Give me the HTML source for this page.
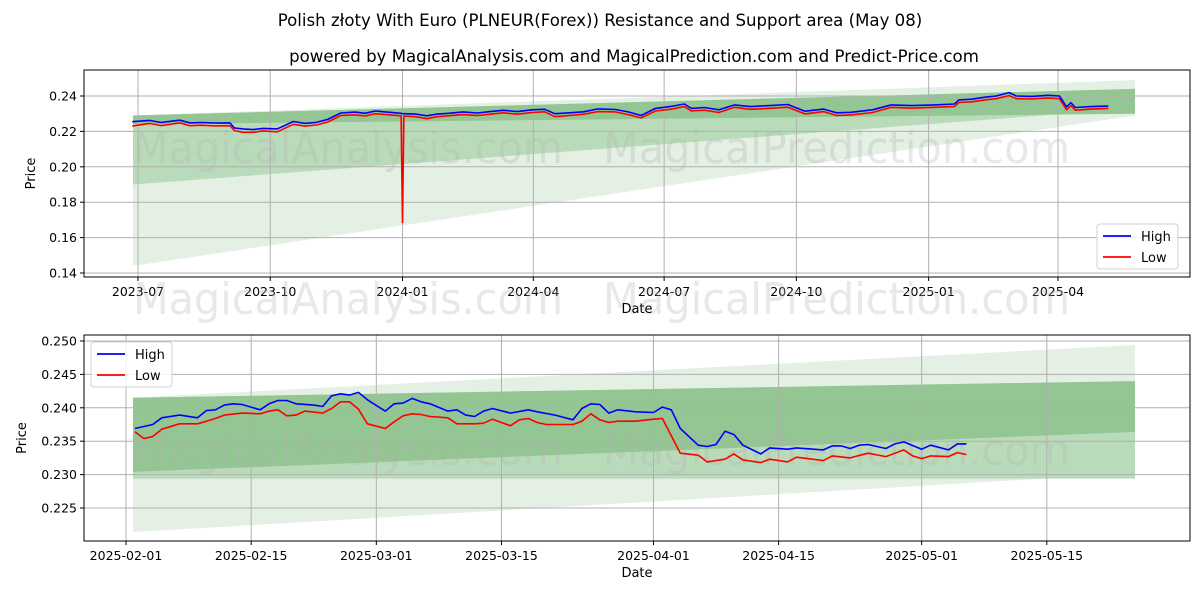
<!DOCTYPE html>
<html><head><meta charset="utf-8"><style>
body{margin:0;background:#fff;width:1200px;height:600px;overflow:hidden}
svg text{font-family:"DejaVu Sans","Liberation Sans",sans-serif}
</style></head><body>
<svg id="c" width="1200" height="600" xmlns="http://www.w3.org/2000/svg">
<text x="600" y="26" text-anchor="middle" font-size="16.6">Polish złoty With Euro (PLNEUR(Forex)) Resistance and Support area (May 08)</text>
<text x="634" y="62" text-anchor="middle" font-size="16.6">powered by MagicalAnalysis.com and MagicalPrediction.com and Predict-Price.com</text>
</svg>
<script>
// ---- top chart data (days since 2023-07-01) ----
const topDays=[-4,8,16,24,29,36,44,54,64,67,73,80,87,97,108,116,124,132,141,151,158,165,175,183,184,185,193,201,208,216,226,236,245,254,264,274,283,290,300,310,320,332,341,350,360,370,380,385,394,404,415,426,438,452,464,477,486,496,511,524,538,554,568,571,580,589,597,606,611,622,633,641,646,649,652,663,675];
const topHigh=[0.2255,0.2262,0.2250,0.2258,0.2263,0.2248,0.2250,0.2247,0.2248,0.2220,0.2214,0.2210,0.2217,0.2214,0.2256,0.2245,0.2251,0.2268,0.2304,0.2309,0.2302,0.2315,0.2308,0.2302,0.2300,0.2300,0.2298,0.2288,0.2298,0.2302,0.2310,0.2304,0.2312,0.2319,0.2312,0.2322,0.2325,0.2300,0.2305,0.2311,0.2327,0.2324,0.2310,0.2290,0.2330,0.2340,0.2355,0.2330,0.2335,0.2322,0.2350,0.2340,0.2345,0.2352,0.2314,0.2326,0.2305,0.2308,0.2322,0.2350,0.2346,0.2350,0.2355,0.2378,0.2382,0.2393,0.2400,0.2419,0.2400,0.2398,0.2404,0.2400,0.2339,0.2362,0.2335,0.2340,0.2343];
const topLow=[0.2230,0.2245,0.2233,0.2242,0.2248,0.2232,0.2235,0.2231,0.2232,0.2205,0.2195,0.2195,0.2203,0.2198,0.2240,0.2230,0.2236,0.2253,0.2290,0.2294,0.2287,0.2300,0.2293,0.2288,0.1685,0.2287,0.2283,0.2272,0.2283,0.2288,0.2295,0.2290,0.2297,0.2305,0.2297,0.2307,0.2311,0.2283,0.2290,0.2297,0.2312,0.2310,0.2295,0.2276,0.2315,0.2325,0.2340,0.2316,0.2320,0.2307,0.2336,0.2325,0.2330,0.2337,0.2299,0.2312,0.2290,0.2293,0.2307,0.2336,0.2331,0.2336,0.2340,0.2363,0.2367,0.2378,0.2385,0.2402,0.2385,0.2383,0.2389,0.2385,0.2322,0.2346,0.2320,0.2326,0.2330];
const topTicksY=[0.14,0.16,0.18,0.20,0.22,0.24];
const topTickLabelsX=["2023-07","2023-10","2024-01","2024-04","2024-07","2024-10","2025-01","2025-04"];
const topTickDaysX=[0,92,184,275,366,458,550,640];
const topLightTop=[0.229,0.249], topLightBot=[0.144,0.229];
const topMedTop=[0.229,0.244], topMedBot=[0.190,0.233];
const topDarkTop=[0.229,0.244], topDarkBot=[0.224,0.230];
// ---- bottom chart data (days since 2025-02-01) ----
const botHighDays=[1,3,4,6,8,9,10,11,12,13,15,16,17,18,19,21,22,23,24,25,26,27,29,30,31,32,33,34,36,37,38,39,40,41,43,45,46,48,50,51,52,53,54,55,57,59,60,61,62,64,65,66,67,68,69,71,72,74,75,78,79,80,81,82,83,85,86,87,89,90,92,93,94];
const botHigh=[0.2369,0.2375,0.2385,0.2389,0.2385,0.2396,0.2397,0.2404,0.2406,0.2405,0.2397,0.2406,0.2411,0.2411,0.2406,0.2404,0.2402,0.2418,0.2421,0.2419,0.2423,0.2412,0.2395,0.2406,0.2407,0.2414,0.2409,0.2406,0.2395,0.2397,0.2389,0.2387,0.2395,0.2399,0.2392,0.2397,0.2394,0.2389,0.2382,0.2399,0.2406,0.2405,0.2392,0.2397,0.2394,0.2393,0.2401,0.2397,0.2369,0.2344,0.2342,0.2345,0.2365,0.2360,0.2344,0.2331,0.2340,0.2338,0.2340,0.2337,0.2343,0.2343,0.2339,0.2344,0.2345,0.2339,0.2346,0.2349,0.2338,0.2344,0.2337,0.2346,0.2346];
const botLowDays=[1,2,3,4,6,8,9,10,11,13,15,16,17,18,19,20,22,23,24,25,26,27,29,30,31,32,33,34,36,37,39,40,41,43,44,45,46,47,50,51,52,53,54,55,57,59,60,62,64,65,67,68,69,71,72,74,75,78,79,81,83,85,87,88,89,90,92,93,94];
const botLow=[0.2364,0.2354,0.2357,0.2368,0.2376,0.2376,0.2380,0.2384,0.2389,0.2392,0.2391,0.2395,0.2397,0.2388,0.2389,0.2395,0.2392,0.2399,0.2409,0.2409,0.2398,0.2376,0.2369,0.2379,0.2388,0.2391,0.2390,0.2387,0.2385,0.2376,0.2376,0.2377,0.2383,0.2373,0.2382,0.2384,0.2378,0.2375,0.2375,0.2380,0.2391,0.2382,0.2378,0.2380,0.2380,0.2383,0.2384,0.2332,0.2329,0.2319,0.2323,0.2331,0.2322,0.2318,0.2323,0.2319,0.2326,0.2321,0.2328,0.2325,0.2332,0.2327,0.2337,0.2328,0.2324,0.2328,0.2327,0.2333,0.2330];
const botTicksY=[0.225,0.230,0.235,0.240,0.245,0.250];
const botTickLabelsX=["2025-02-01","2025-02-15","2025-03-01","2025-03-15","2025-04-01","2025-04-15","2025-05-01","2025-05-15"];
const botTickDaysX=[0,14,28,42,59,73,89,103];
const botLightTop=[0.2415,0.2494], botLightBot=[0.2214,0.2302];
const botMedTop=[0.2415,0.2440], botMedBot=[0.2294,0.2294];
const botDarkTop=[0.2415,0.2440], botDarkBot=[0.2304,0.2364];

const NS="http://www.w3.org/2000/svg";
const svg=document.getElementById('c');
function mk(tag,attrs,parent){const e=document.createElementNS(NS,tag);for(const k in attrs)e.setAttribute(k,attrs[k]);(parent||svg).appendChild(e);return e;}

function panel(cfg){
  const g=mk('g',{});
  
  
  const X=cfg.x, Y=cfg.y;
  const bx0=cfg.bandX0, bx1=cfg.bandX1;
  function band(top,bot,col,nm){
    const p=mk('polygon',{points:`${bx0},${Y(top[0])} ${bx1},${Y(top[1])} ${bx1},${Y(bot[1])} ${bx0},${Y(bot[0])}`,fill:col},g);
    
    
  }
  band(cfg.light[0],cfg.light[1],'#e3f0e3','band-light');
  band(cfg.med[0],cfg.med[1],'#b9dbb9','band-medium');
  band(cfg.dark[0],cfg.dark[1],'#93c693','band-dark');
  cfg.ticksY.forEach(v=>{
    const l=mk('line',{x1:cfg.L,x2:cfg.R,y1:Y(v),y2:Y(v),stroke:'#b0b0b0','stroke-width':1},g);
    
    
    mk('line',{x1:cfg.L-4,x2:cfg.L,y1:Y(v),y2:Y(v),stroke:'#000'},g);
    const t=mk('text',{x:cfg.L-7,y:Y(v)+4.5,'text-anchor':'end','font-size':12.5},g);
    t.textContent=v.toFixed(cfg.dec);
    
    
  });
  cfg.ticksXd.forEach((d,i)=>{
    const l=mk('line',{x1:X(d),x2:X(d),y1:cfg.T,y2:cfg.B,stroke:'#b0b0b0','stroke-width':1},g);
    
    
    mk('line',{x1:X(d),x2:X(d),y1:cfg.B,y2:cfg.B+4,stroke:'#000'},g);
    const t=mk('text',{x:X(d),y:cfg.B+19,'text-anchor':'middle','font-size':12.5},g);
    t.textContent=cfg.ticksXl[i];
    
    
  });
  cfg.wm.forEach(w=>{
    const t=mk('text',{x:w[0],y:w[1],'font-size':44,fill:'#b4b4b4','fill-opacity':0.3,textLength:w[3],lengthAdjust:'spacingAndGlyphs'},g);
    t.textContent=w[2];
    
    
  });
  function line(days,vals,col,nm){
    const pts=days.map((d,i)=>X(d).toFixed(1)+','+Y(vals[i]).toFixed(1)).join(' ');
    const p=mk('polyline',{points:pts,fill:'none',stroke:col,'stroke-width':1.6,'stroke-linejoin':'round'},g);
    
    
  }
  line(cfg.lowD,cfg.low,'#ff0000','low-line');
  line(cfg.highD,cfg.high,'#0000ff','high-line');
  const f=mk('rect',{x:cfg.L,y:cfg.T,width:cfg.R-cfg.L,height:cfg.B-cfg.T,fill:'none',stroke:'#000','stroke-width':1},g);
  
  
  const xt=mk('text',{x:(cfg.L+cfg.R)/2,y:cfg.B+36,'text-anchor':'middle','font-size':13},g);
  xt.textContent='Date';
  
  
  const yc=(cfg.T+cfg.B)/2;
  const yt=mk('text',{x:cfg.ytx,y:yc,'text-anchor':'middle','font-size':13,transform:`rotate(-90 ${cfg.ytx} ${yc})`},g);
  yt.textContent='Price';
  
  
  const lg=mk('g',{},g);
  
  
  const [lx,ly]=cfg.leg;
  mk('rect',{x:lx,y:ly,width:81,height:45,rx:3,fill:'#fff','fill-opacity':0.85,stroke:'#d0d0d0'},lg);
  [['High','#0000ff'],['Low','#ff0000']].forEach((e,i)=>{
    const eg=mk('g',{},lg);
    
    
    mk('line',{x1:lx+6,x2:lx+34,y1:ly+12+i*21,y2:ly+12+i*21,stroke:e[1],'stroke-width':1.8},eg);
    const t=mk('text',{x:lx+44,y:ly+17+i*21,'font-size':13},eg);
    t.textContent=e[0];
  });
}

panel({name:'top-chart',L:84,R:1190,T:70,B:277,
  x:d=>138+d*1.4375, y:v=>96+(0.24-v)*1770,
  bandX0:133,bandX1:1135,
  light:[topLightTop,topLightBot],med:[topMedTop,topMedBot],dark:[topDarkTop,topDarkBot],
  ticksY:topTicksY,dec:2,ticksXd:topTickDaysX,ticksXl:topTickLabelsX,
  wm:[[133,163,'MagicalAnalysis.com',430],[603,163,'MagicalPrediction.com',467],[133,314,'MagicalAnalysis.com',430],[603,314,'MagicalPrediction.com',467]],
  highD:topDays,high:topHigh,lowD:topDays,low:topLow,ytx:35,leg:[1097,224]});

panel({name:'bottom-chart',L:84,R:1190,T:335,B:541,
  x:d=>126+d*8.94, y:v=>341+(0.250-v)*6680,
  bandX0:133,bandX1:1135,
  light:[botLightTop,botLightBot],med:[botMedTop,botMedBot],dark:[botDarkTop,botDarkBot],
  ticksY:botTicksY,dec:3,ticksXd:botTickDaysX,ticksXl:botTickLabelsX,
  wm:[[133,465,'MagicalAnalysis.com',430],[603,465,'MagicalPrediction.com',467]],
  highD:botHighDays,high:botHigh,lowD:botLowDays,low:botLow,ytx:26,leg:[91,342]});
</script>
</body></html>
